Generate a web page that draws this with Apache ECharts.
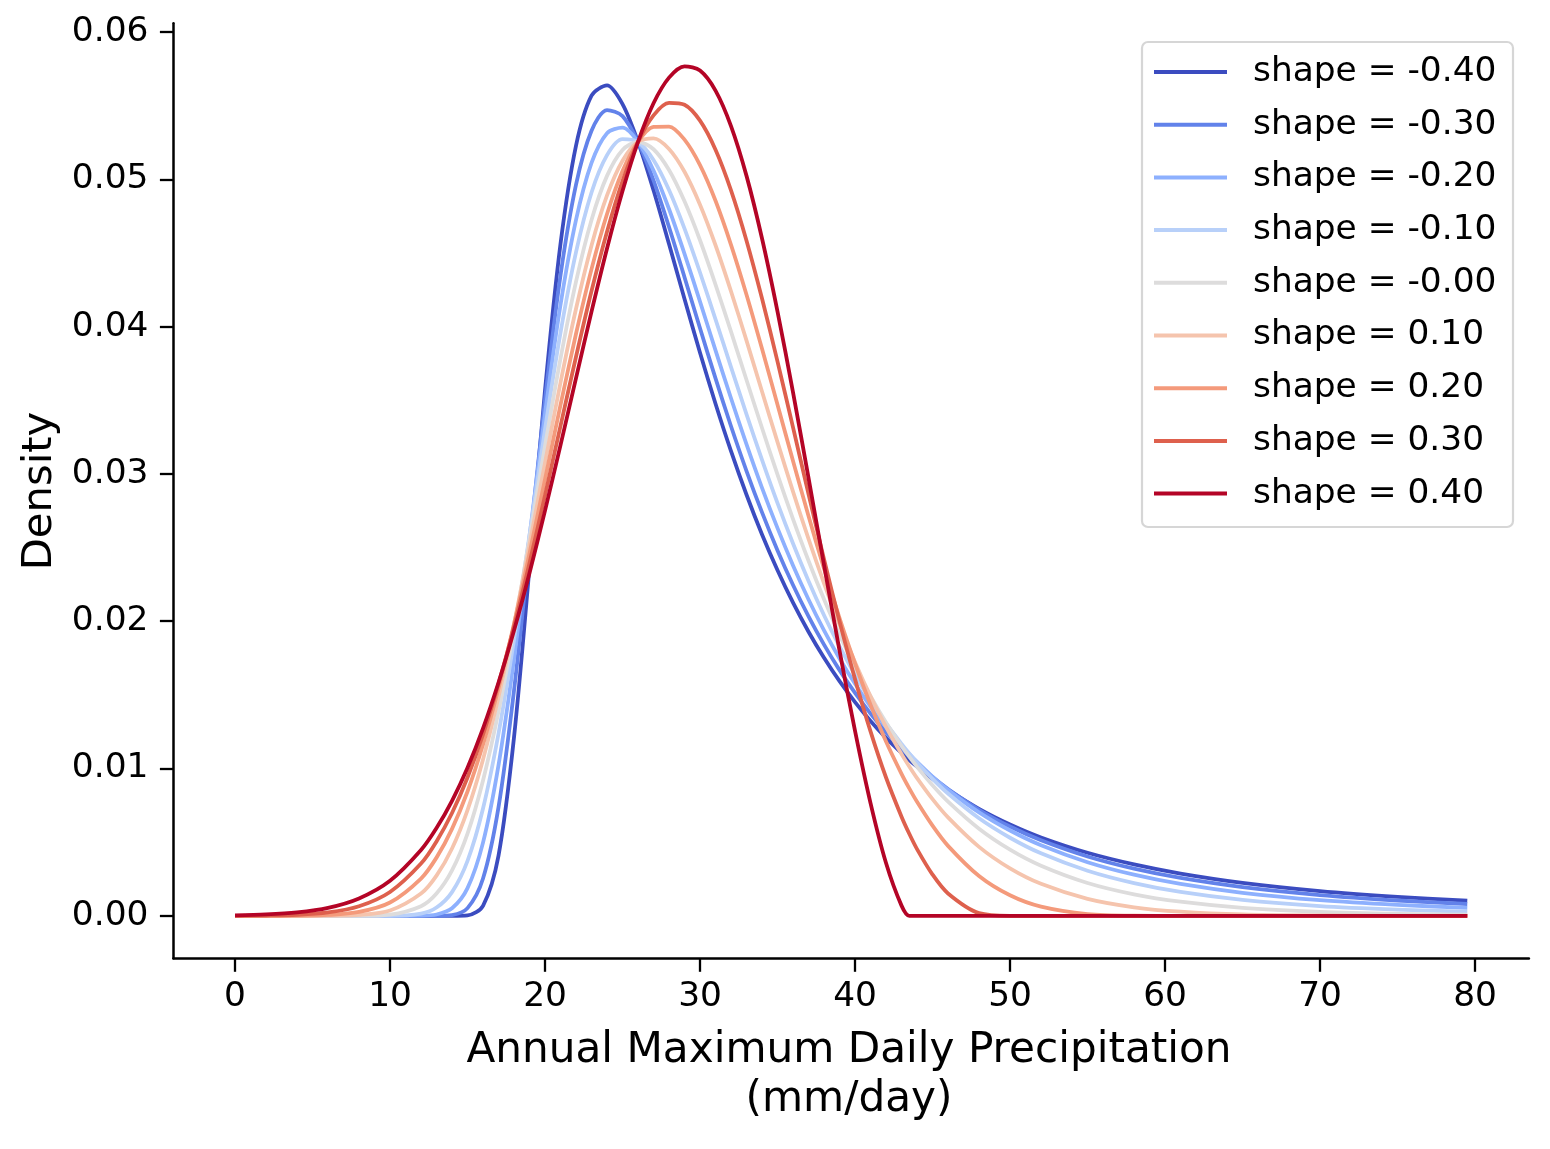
<!DOCTYPE html>
<html>
<head>
<meta charset="utf-8">
<script src="https://cdn.jsdelivr.net/npm/echarts@6/dist/echarts.min.js"></script>
<style>
html,body{margin:0;padding:0;background:#fff;}
#chart{width:1550px;height:1149px;}
</style>
</head>
<body>
<div id="chart"></div>
<script>
// x grid (mm/day)
const xs = [0,2,4,6,8,10,12,13,14,15,16,17,18,19,20,21,22,23,24,25,26,27,28,29,30,31,32,33,34,35,36,37,38,39,40,41,42,43,43.5,44,45,46,48,50,52,55,58,61,65,70,75,79.5];

// densities, one array per shape value
const shapeNeg40 = [0,0,0,0,0,0,0,0,0,0.00003,0.00068,0.00409,0.01212,0.02366,0.03569,0.04563,0.05230,0.05569,0.05638,0.05511,0.05255,0.04926,0.04561,0.04188,0.03823,0.03477,0.03155,0.02859,0.02589,0.02346,0.02126,0.01929,0.01752,0.01593,0.01451,0.01323,0.01208,0.01106,0.01058,0.01013,0.00930,0.00855,0.00726,0.00620,0.00532,0.00428,0.00349,0.00287,0.00224,0.00168,0.00129,0.00103];
const shapeNeg30 = [0,0,0,0,0,0,0,0,0.00005,0.00052,0.00253,0.00738,0.01530,0.02513,0.03504,0.04350,0.04965,0.05331,0.05471,0.05430,0.05255,0.04993,0.04677,0.04336,0.03989,0.03649,0.03324,0.03020,0.02739,0.02481,0.02246,0.02033,0.01841,0.01668,0.01513,0.01373,0.01247,0.01135,0.01083,0.01033,0.00942,0.00861,0.00720,0.00606,0.00513,0.00403,0.00320,0.00257,0.00195,0.00141,0.00104,0.00080];
const shapeNeg20 = [0,0,0,0,0,0,0.00001,0.00009,0.00051,0.00188,0.00497,0.01023,0.01744,0.02576,0.03411,0.04149,0.04725,0.05112,0.05314,0.05351,0.05255,0.05061,0.04799,0.04495,0.04170,0.03839,0.03514,0.03201,0.02906,0.02632,0.02379,0.02148,0.01938,0.01747,0.01575,0.01421,0.01282,0.01157,0.01099,0.01045,0.00945,0.00855,0.00702,0.00579,0.00479,0.00364,0.00279,0.00216,0.00156,0.00106,0.00074,0.00054];
const shapeNeg10 = [0,0,0,0,0,0,0.00015,0.00056,0.00161,0.00373,0.00729,0.01238,0.01875,0.02586,0.03303,0.03960,0.04506,0.04911,0.05165,0.05274,0.05255,0.05132,0.04928,0.04666,0.04368,0.04050,0.03726,0.03405,0.03096,0.02802,0.02528,0.02274,0.02041,0.01829,0.01636,0.01462,0.01306,0.01167,0.01102,0.01041,0.00930,0.00830,0.00662,0.00530,0.00424,0.00306,0.00222,0.00162,0.00108,0.00066,0.00042,0.00028];
const shapeZero  = [0,0,0,0,0,0.00008,0.00065,0.00151,0.00308,0.00558,0.00919,0.01388,0.01947,0.02563,0.03190,0.03784,0.04306,0.04725,0.05024,0.05200,0.05255,0.05205,0.05064,0.04851,0.04587,0.04286,0.03966,0.03638,0.03312,0.02995,0.02694,0.02411,0.02149,0.01908,0.01689,0.01491,0.01312,0.01153,0.01080,0.01011,0.00886,0.00775,0.00591,0.00449,0.00340,0.00223,0.00146,0.00096,0.00054,0.00027,0.00013,0.00007];
const shapePos10 = [0,0,0,0.00001,0.00006,0.00036,0.00151,0.00273,0.00457,0.00718,0.01062,0.01486,0.01978,0.02518,0.03076,0.03621,0.04122,0.04552,0.04891,0.05127,0.05255,0.05279,0.05207,0.05052,0.04828,0.04553,0.04240,0.03905,0.03560,0.03216,0.02880,0.02559,0.02258,0.01978,0.01722,0.01491,0.01283,0.01098,0.01014,0.00935,0.00792,0.00668,0.00468,0.00322,0.00217,0.00115,0.00058,0.00028,0.00009,0.00002,0,0];
const shapePos20 = [0,0,0.00001,0.00006,0.00026,0.00090,0.00253,0.00395,0.00590,0.00844,0.01163,0.01545,0.01981,0.02460,0.02963,0.03469,0.03952,0.04391,0.04765,0.05057,0.05255,0.05356,0.05359,0.05270,0.05097,0.04855,0.04556,0.04217,0.03850,0.03470,0.03088,0.02714,0.02357,0.02022,0.01713,0.01433,0.01184,0.00964,0.00865,0.00774,0.00612,0.00475,0.00270,0.00139,0.00062,0.00012,0.00001,0,0,0,0,0];
const shapePos30 = [0,0.00002,0.00007,0.00023,0.00065,0.00162,0.00355,0.00505,0.00698,0.00939,0.01231,0.01575,0.01965,0.02396,0.02855,0.03327,0.03796,0.04242,0.04645,0.04988,0.05255,0.05435,0.05520,0.05507,0.05399,0.05202,0.04926,0.04584,0.04191,0.03763,0.03316,0.02864,0.02421,0.01999,0.01607,0.01252,0.00939,0.00673,0.00557,0.00453,0.00280,0.00152,0.00018,0,0,0,0,0,0,0,0,0];
const shapePos40 = [0.00003,0.00009,0.00023,0.00054,0.00118,0.00238,0.00447,0.00596,0.00781,0.01006,0.01273,0.01584,0.01937,0.02328,0.02751,0.03196,0.03651,0.04102,0.04531,0.04921,0.05255,0.05517,0.05691,0.05768,0.05739,0.05603,0.05362,0.05024,0.04599,0.04103,0.03554,0.02973,0.02382,0.01801,0.01255,0.00765,0.00358,0.00069,0,0,0,0,0,0,0,0,0,0,0,0,0,0];

const seriesNames = ['shape = -0.40','shape = -0.30','shape = -0.20','shape = -0.10','shape = -0.00','shape = 0.10','shape = 0.20','shape = 0.30','shape = 0.40'];
const seriesValues = [shapeNeg40, shapeNeg30, shapeNeg20, shapeNeg10, shapeZero, shapePos10, shapePos20, shapePos30, shapePos40];
const colors = ['#3b4cc0','#6282ea','#8db0fe','#b8d0f9','#dddcdc','#f5c4ad','#f49a7b','#de604d','#b40426'];

const xTicks = [0,10,20,30,40,50,60,70,80];
const yTicks = [0,0.01,0.02,0.03,0.04,0.05,0.06];

const FONT = 'DejaVu Sans';
const chart = echarts.init(document.getElementById('chart'), null, {renderer:'canvas'});

const series = seriesNames.map((name, k) => ({
  name: name,
  type: 'line',
  data: xs.map((x, i) => [x, seriesValues[k][i]]),
  showSymbol: false,
  symbol: 'none',
  smooth: 0.3,
  lineStyle: {color: colors[k], width: 3.8, cap: 'butt', join: 'round'},
  itemStyle: {color: colors[k]},
  emphasis: {disabled: true},
  animation: false
}));

chart.setOption({
  animation: false,
  grid: {left: 173.4, right: 21.1, top: 23.3, bottom: 190.7, containLabel: false},
  xAxis: {
    type: 'value', min: -3.975, max: 83.475,
    axisLine: {show: true, onZero: false, lineStyle: {color: '#000', width: 2.5}},
    axisTick: {show: true, inside: false, length: 13.5, lineStyle: {color: '#000', width: 2.3}, customValues: xTicks},
    axisLabel: {customValues: xTicks, fontSize: 34.4, fontFamily: FONT, color: '#000', margin: 22},
    splitLine: {show: false}
  },
  yAxis: {
    type: 'value', min: -0.0028857, max: 0.0605997,
    axisLine: {show: true, onZero: false, lineStyle: {color: '#000', width: 2.5}},
    axisTick: {show: true, inside: false, length: 13.5, lineStyle: {color: '#000', width: 2.3}, customValues: yTicks},
    axisLabel: {customValues: yTicks, fontSize: 34.4, fontFamily: FONT, color: '#000', margin: 25,
      formatter: v => v.toFixed(2)},
    splitLine: {show: false}
  },
  legend: {
    orient: 'vertical', left: 1154, top: 52, padding: 0,
    itemWidth: 73, itemHeight: 4, itemGap: 12.7, icon: 'rect',
    selectedMode: false,
    data: seriesNames,
    textStyle: {fontSize: 34.4, fontFamily: FONT, color: '#000', lineHeight: 40, padding: [0,0,0,21]},
    z: 10
  },
  graphic: {elements: [
    {type: 'rect', z: 5, shape: {x: 1142, y: 42, width: 371, height: 485, r: 6},
      style: {fill: '#fff', stroke: '#d6d6d6', lineWidth: 2.2}},
    {type: 'text', x: 849, y: 1076, z: 5,
      style: {text: 'Annual Maximum Daily Precipitation\n(mm/day)', font: '42.2px "DejaVu Sans"', lineHeight: 49,
        fill: '#000', align: 'center', verticalAlign: 'middle'}},
    {type: 'text', x: 40, y: 491, rotation: Math.PI/2, z: 5,
      style: {text: 'Density', font: '41.7px "DejaVu Sans"', fill: '#000', align: 'center', verticalAlign: 'middle'}}
  ]},
  series: series
});
</script>
</body>
</html>
